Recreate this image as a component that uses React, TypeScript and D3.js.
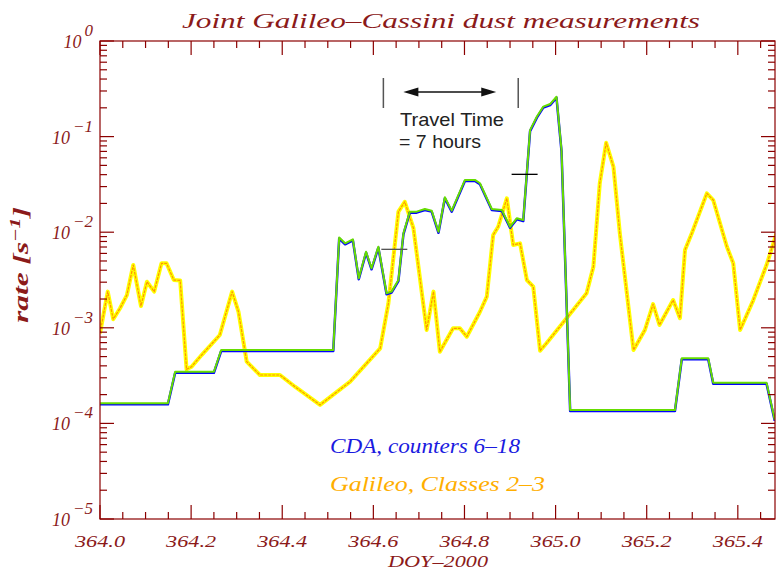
import React from "react";
import * as d3 from "d3";

// ---- data ----
const galDoy = [364.000, 364.017, 364.029, 364.044, 364.059, 364.073, 364.090, 364.103, 364.119, 364.135, 364.146, 364.162, 364.176, 364.190, 364.201, 364.223, 364.263, 364.290, 364.304, 364.322, 364.351, 364.395, 364.428, 364.483, 364.549, 364.615, 364.633, 364.655, 364.669, 364.688, 364.717, 364.732, 364.746, 364.775, 364.790, 364.805, 364.834, 364.849, 364.863, 364.874, 364.893, 364.907, 364.922, 364.937, 364.951, 364.966, 364.980, 365.024, 365.068, 365.083, 365.097, 365.111, 365.127, 365.141, 365.171, 365.196, 365.214, 365.228, 365.258, 365.273, 365.284, 365.299, 365.332, 365.346, 365.376, 365.390, 365.405, 365.434, 365.463, 365.485];
const galRate = [8.75e-4, 2.39e-3, 1.23e-3, 1.6e-3, 2.2e-3, 4.54e-3, 1.69e-3, 3.03e-3, 2.39e-3, 4.73e-3, 4.73e-3, 3.16e-3, 3.13e-3, 3.68e-4, 3.92e-4, 5.19e-4, 8.41e-4, 2.39e-3, 1.47e-3, 4.42e-4, 3.21e-4, 3.21e-4, 2.42e-4, 1.56e-4, 2.73e-4, 6.1e-4, 1.8e-3, 1.64e-2, 2.08e-2, 1.1e-2, 9.48e-4, 2.39e-3, 5.62e-4, 9.88e-4, 9.88e-4, 8.07e-4, 1.47e-3, 2.12e-3, 9.35e-3, 1.14e-2, 2.26e-2, 7.35e-3, 7.65e-3, 3.16e-3, 2.69e-3, 5.76e-4, 6.89e-4, 1.26e-3, 2.3e-3, 4.36e-3, 3.25e-2, 8.63e-2, 4.84e-2, 9.74e-3, 5.86e-4, 9.48e-4, 1.77e-3, 1.07e-3, 1.95e-3, 1.26e-3, 6.51e-3, 9.74e-3, 2.55e-2, 2.17e-2, 7.05e-3, 4.73e-3, 9.48e-4, 1.95e-3, 4.54e-3, 9.74e-3];

const cdaDoy = [364.000, 364.149, 364.165, 364.250, 364.266, 364.512, 364.525, 364.538, 364.555, 364.568, 364.584, 364.596, 364.611, 364.629, 364.640, 364.655, 364.666, 364.680, 364.695, 364.713, 364.728, 364.743, 364.757, 364.772, 364.801, 364.823, 364.834, 364.860, 364.882, 364.900, 364.915, 364.929, 364.944, 364.959, 364.973, 364.988, 365.002, 365.013, 365.032, 365.262, 365.277, 365.335, 365.346, 365.463, 365.481];
const cdaRate = [1.62e-4, 1.62e-4, 3.47e-4, 3.47e-4, 5.86e-4, 5.86e-4, 8.8e-3, 7.65e-3, 8.43e-3, 3.3e-3, 6.25e-3, 4.19e-3, 7.05e-3, 2.3e-3, 2.39e-3, 3.16e-3, 9.74e-3, 1.64e-2, 1.64e-2, 1.75e-2, 1.68e-2, 1.01e-2, 2.32e-2, 1.68e-2, 3.52e-2, 3.52e-2, 3.25e-2, 1.75e-2, 1.71e-2, 1.14e-2, 1.40e-2, 1.34e-2, 0.117, 0.162, 0.206, 0.219, 0.261, 7.24e-2, 1.38e-4, 1.38e-4, 4.8e-4, 4.8e-4, 2.67e-4, 2.67e-4, 1.09e-4];

// small horizontal markers: [doy, rate]
const markerDoy = [364.646, 364.932];
const markerRate = [6.62e-3, 4.03e-2];
const markerColors = ["#555555", "#000000"];

// travel-time annotation bounds (DOY)
const travelStart = 364.622;
const travelEnd = 364.918;

const xMajorTicks = [364.0, 364.2, 364.4, 364.6, 364.8, 365.0, 365.2, 365.4];
const xTickLabels = ["364.0", "364.2", "364.4", "364.6", "364.8", "365.0", "365.2", "365.4"];
const yExponents = [0, -1, -2, -3, -4, -5];
const yExpLabels = ["0", "\u22121", "\u22122", "\u22123", "\u22124", "\u22125"];

const W = 777, H = 571;
const L = 100, R = 775, T = 41, B = 519;
const AX = "#8b0000";
const TXT = "#8b1a1a";
const SERIF = "'Liberation Serif', 'DejaVu Serif', serif";
const SANS = "'Liberation Sans', Arial, sans-serif";

export default function App() {
  const x = d3.scaleLinear().domain([364.0, 365.4816]).range([L, R]);
  const y = d3.scaleLog().domain([1e-5, 1]).range([B, T]);

  const xMinor: number[] = [];
  for (let i = 0; i <= 29; i++) {
    const v = 364 + i * 0.05;
    if (i % 4 !== 0) xMinor.push(v);
  }
  const yMinor: number[] = [];
  for (let k = -5; k < 0; k++) for (let m = 2; m <= 9; m++) yMinor.push(m * Math.pow(10, k));

  const line = d3.line<[number, number]>().x(d => x(d[0])).y(d => y(d[1]));
  const galPts: [number, number][] = galDoy.map((d, i) => [d, galRate[i]]);
  const cdaPts: [number, number][] = cdaDoy.map((d, i) => [d, cdaRate[i]]);
  const galPath = line(galPts) || "";
  const cdaPath = line(cdaPts) || "";

  const majLen = 14, minLen = 7;
  const x1 = x(travelStart), x2 = x(travelEnd);
  const ay = 92;

  return (
    <div style={{ position: "absolute", left: 0, top: 0 }}>
      <svg width={W} height={H} style={{ display: "block", background: "#fff" }}>
        <defs>
          <clipPath id="plot">
            <rect x={L} y={T} width={R - L} height={B - T} />
          </clipPath>
        </defs>
        {/* title */}
        <text x={441} y={28} textAnchor="middle" fontFamily={SERIF} fontStyle="italic" fontSize={20} fill={TXT}
          textLength={518} lengthAdjust="spacingAndGlyphs">Joint Galileo–Cassini dust measurements</text>

        {/* data lines */}
        <g clipPath="url(#plot)" fill="none" strokeLinejoin="round">
          <path d={galPath} stroke="#ffff00" strokeWidth={4} />
          <path d={galPath} stroke="#ff7a00" strokeWidth={1.2} opacity={0.8} strokeDasharray="3 1" />
          <path d={cdaPath} stroke="#0000ff" strokeWidth={2.5} transform="translate(0,1)" />
          <path d={cdaPath} stroke="#66dd00" strokeWidth={2} />
        </g>

        {/* markers */}
        {markerDoy.map((d, i) => (
          <line key={"mk" + i} x1={x(d) - 13} x2={x(d) + 13} y1={y(markerRate[i])} y2={y(markerRate[i])}
            stroke={markerColors[i]} strokeWidth={1.3} />
        ))}

        {/* travel time annotation */}
        <g stroke="#555" strokeWidth={1.5}>
          <line x1={x1} x2={x1} y1={78} y2={108} />
          <line x1={x2} x2={x2} y1={78} y2={108} />
        </g>
        <line x1={x1 + 30} x2={x2 - 32} y1={ay} y2={ay} stroke="#111" strokeWidth={1.3} />
        <path d={`M${x1 + 20},${ay} l15,-4.5 l0,9 z`} fill="#111" />
        <path d={`M${x2 - 22},${ay} l-15,-4.5 l0,9 z`} fill="#111" />
        <text x={400} y={126} fontFamily={SANS} fontSize={18.5} fill="#222" textLength={104} lengthAdjust="spacingAndGlyphs">Travel Time</text>
        <text x={399} y={148} fontFamily={SANS} fontSize={18.5} fill="#222" textLength={82} lengthAdjust="spacingAndGlyphs">= 7 hours</text>

        {/* legend */}
        <text x={330} y={453} fontFamily={SERIF} fontStyle="italic" fontSize={21} fill="#1a1ae0" textLength={190} lengthAdjust="spacingAndGlyphs">CDA, counters 6–18</text>
        <text x={330} y={491} fontFamily={SERIF} fontStyle="italic" fontSize={21} fill="#ffae00" textLength={215} lengthAdjust="spacingAndGlyphs">Galileo, Classes 2–3</text>

        {/* axes frame */}
        <rect x={L} y={T} width={R - L} height={B - T} fill="none" stroke={AX} strokeWidth={1.2} />
        <g stroke={AX} strokeWidth={1.2}>
          {xMajorTicks.map(v => (
            <g key={"xm" + v}>
              <line x1={x(v)} x2={x(v)} y1={B} y2={B - majLen} />
              <line x1={x(v)} x2={x(v)} y1={T} y2={T + majLen} />
            </g>
          ))}
          {xMinor.map(v => (
            <g key={"xn" + v}>
              <line x1={x(v)} x2={x(v)} y1={B} y2={B - minLen} />
              <line x1={x(v)} x2={x(v)} y1={T} y2={T + minLen} />
            </g>
          ))}
          {yExponents.map(e => (
            <g key={"ym" + e}>
              <line x1={L} x2={L + majLen} y1={y(Math.pow(10, e))} y2={y(Math.pow(10, e))} />
              <line x1={R} x2={R - majLen} y1={y(Math.pow(10, e))} y2={y(Math.pow(10, e))} />
            </g>
          ))}
          {yMinor.map(v => (
            <g key={"yn" + v}>
              <line x1={L} x2={L + minLen} y1={y(v)} y2={y(v)} />
              <line x1={R} x2={R - minLen} y1={y(v)} y2={y(v)} />
            </g>
          ))}
        </g>

        {/* y tick labels */}
        {yExponents.map((e, i) => (
          <text key={"yl" + e} x={93} y={y(Math.pow(10, e)) + 7} textAnchor="end" fontFamily={SERIF} fontStyle="italic" fontSize={18} fill={TXT}>
            <tspan>10</tspan>
            <tspan dx={3} dy={-12} fontSize={17}>{yExpLabels[i]}</tspan>
          </text>
        ))}

        {/* x tick labels */}
        {xMajorTicks.map((v, i) => (
          <text key={"xl" + v} x={x(v)} y={547} textAnchor="middle" fontFamily={SERIF} fontStyle="italic" fontSize={17} fill={TXT}
            textLength={50} lengthAdjust="spacingAndGlyphs">{xTickLabels[i]}</text>
        ))}

        {/* axis titles */}
        <text x={438} y={567} textAnchor="middle" fontFamily={SERIF} fontStyle="italic" fontSize={17} fill={TXT}
          textLength={100} lengthAdjust="spacingAndGlyphs">DOY–2000</text>
        <text transform="translate(28,265) rotate(-90)" textAnchor="middle" fontFamily={SERIF} fontStyle="italic" fontWeight="bold" fontSize={20} fill={TXT}
          textLength={116} lengthAdjust="spacingAndGlyphs">
          <tspan>rate [s</tspan>
          <tspan dy={-8} fontSize={14}>−1</tspan>
          <tspan dy={8}>]</tspan>
        </text>
      </svg>
    </div>
  );
}
